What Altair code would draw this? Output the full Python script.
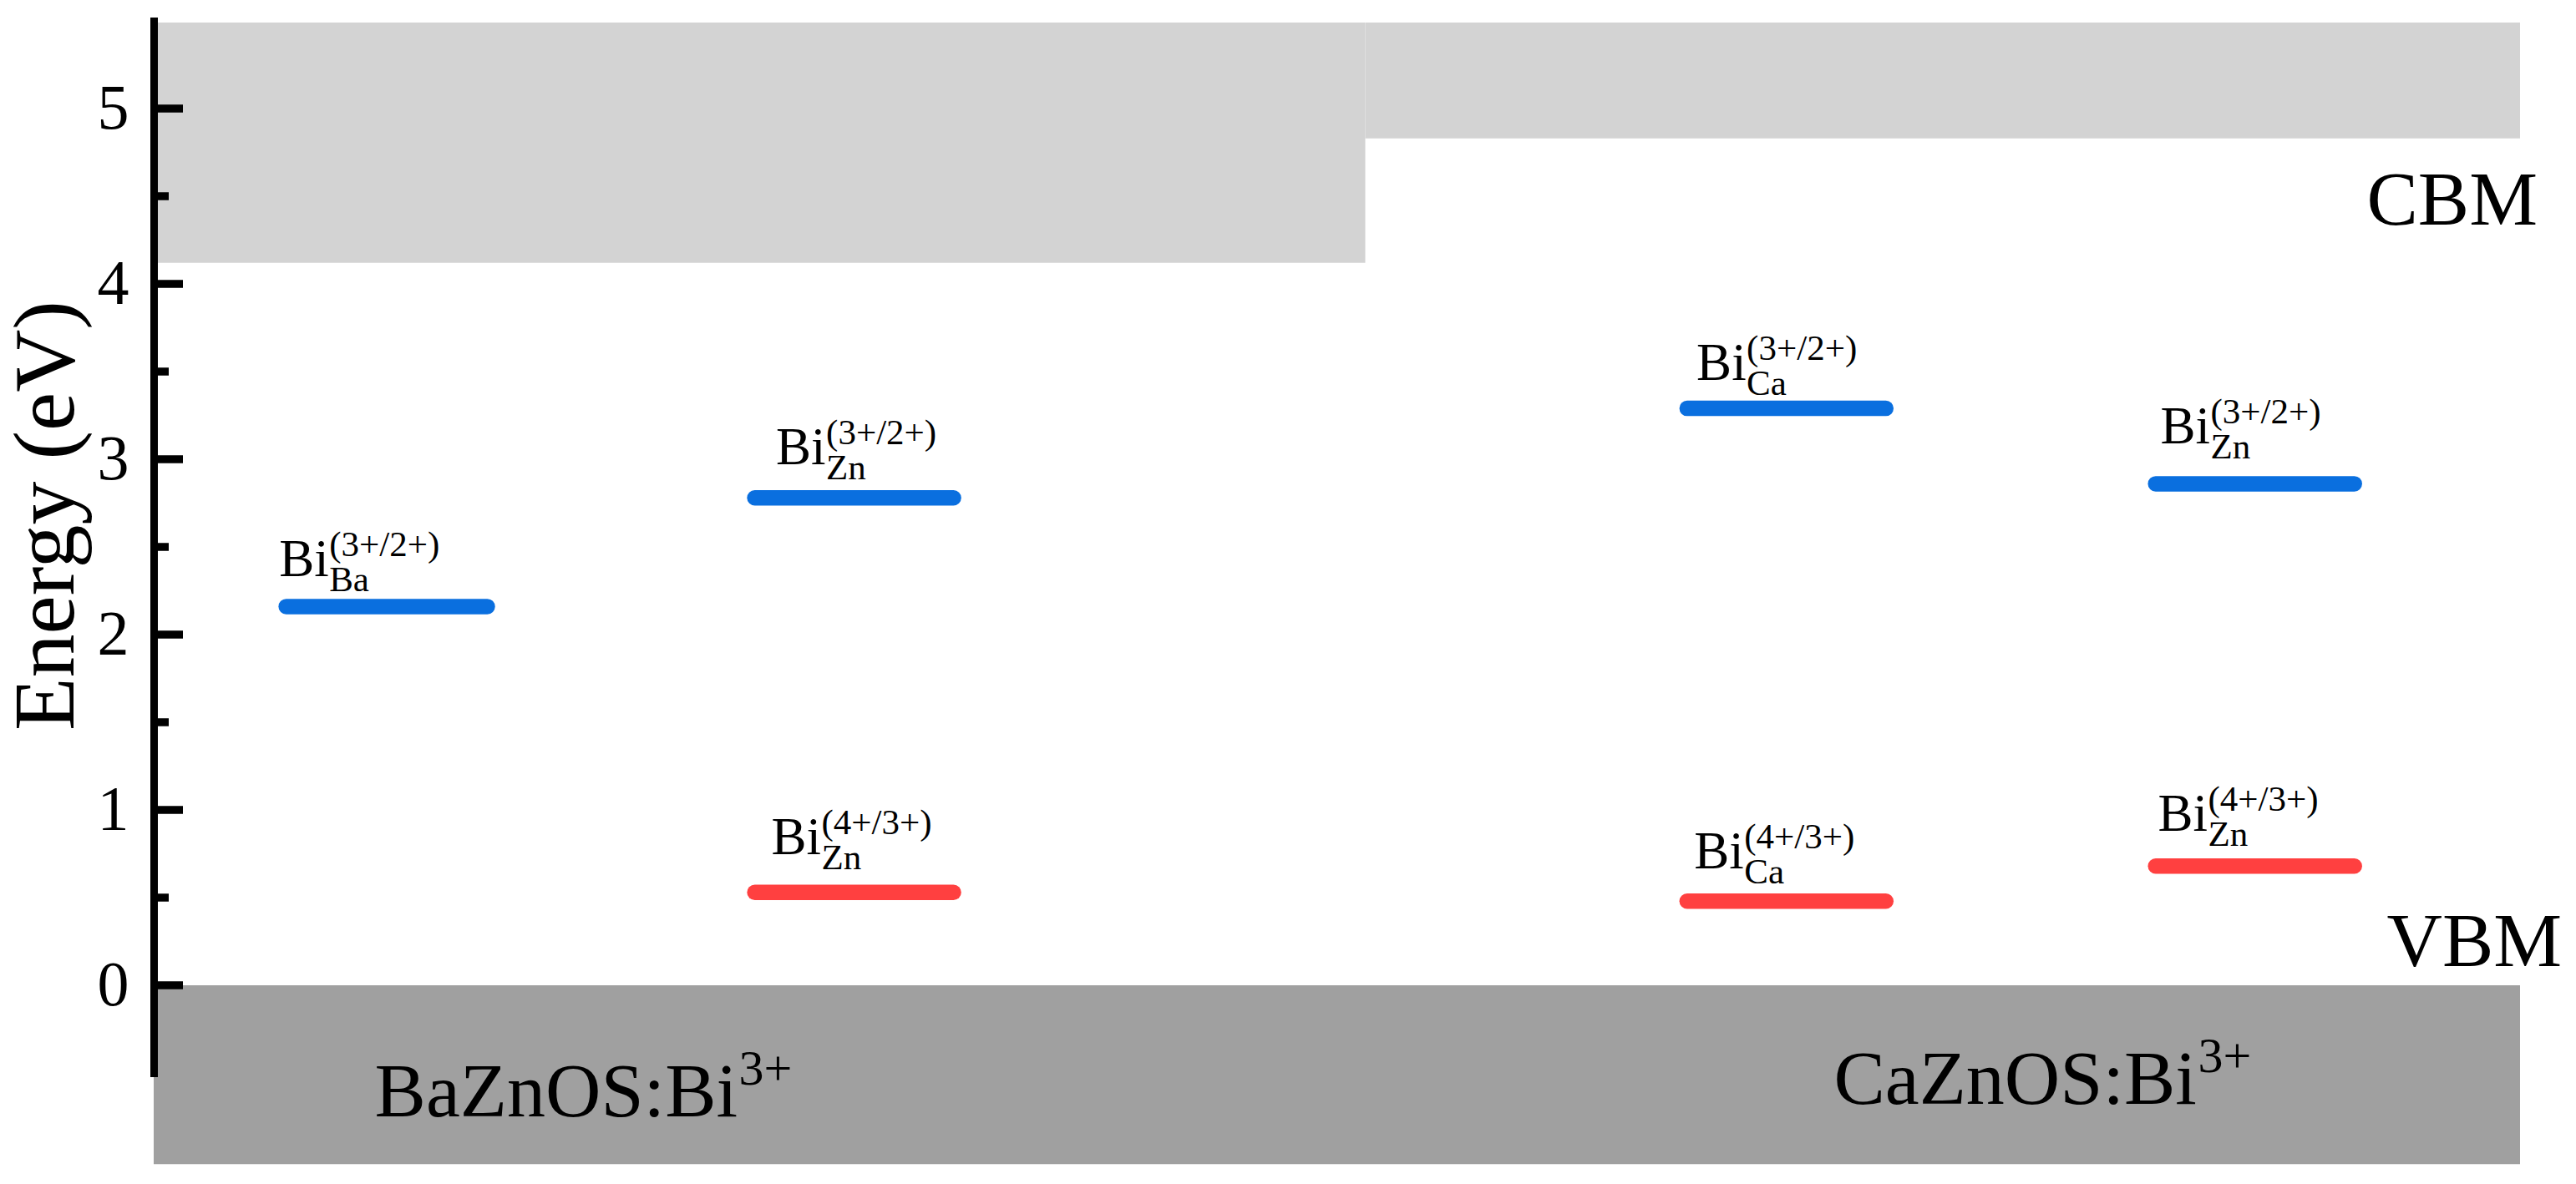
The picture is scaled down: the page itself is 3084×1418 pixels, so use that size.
import altair as alt
import pandas as pd

FONT = "Liberation Serif"

# ---- background bands (energy in eV; x in panel units 0-10) ----
band_x1 = [0.0, 5.12, 0.0]
band_x2 = [5.12, 10.0, 10.0]
band_y1 = [4.12, 4.83, -1.02]
band_y2 = [5.49, 5.49, 0.0]
band_kind = ["CB", "CB", "VB"]

# ---- defect transition levels ----
lvl_x1 = [0.56, 2.54, 2.54, 6.48, 8.46, 6.48, 8.46]
lvl_x2 = [1.41, 3.38, 3.38, 7.32, 9.30, 7.32, 9.30]
lvl_y = [2.16, 2.78, 0.53, 3.29, 2.86, 0.48, 0.68]
lvl_kind = ["3+/2+", "3+/2+", "4+/3+", "3+/2+", "3+/2+", "4+/3+", "4+/3+"]

# ---- level labels ----
lab_x = [0.53, 2.63, 2.61, 6.52, 8.48, 6.51, 8.47]
lab_y = [2.333, 2.971, 0.748, 3.452, 3.090, 0.667, 0.881]
lab_main = ["Bi"] * 7
lab_sub = ["Ba", "Zn", "Zn", "Ca", "Zn", "Ca", "Zn"]
lab_sup = ["(3+/2+)", "(3+/2+)", "(4+/3+)", "(3+/2+)", "(3+/2+)", "(4+/3+)", "(4+/3+)"]

# ---- compound labels ----
comp_x = [0.934, 7.10]
comp_y = [-0.748, -0.676]
comp_name = ["BaZnOS:Bi", "CaZnOS:Bi"]
comp_sup = ["3+", "3+"]

# ---- band edge labels ----
edge_x = [9.352, 9.437]
edge_y = [4.338, 0.110]
edge_name = ["CBM", "VBM"]

# ---- y ticks ----
major_ticks = [0, 1, 2, 3, 4, 5]
minor_ticks = [0.5, 1.5, 2.5, 3.5, 4.5]

bands = pd.DataFrame(dict(x1=band_x1, x2=band_x2, y1=band_y1, y2=band_y2, kind=band_kind))
levels = pd.DataFrame(dict(x1=lvl_x1, x2=lvl_x2, y=lvl_y, kind=lvl_kind))
labels = pd.DataFrame(dict(x=lab_x, y=lab_y, main=lab_main, sub=lab_sub, sup=lab_sup))
comps = pd.DataFrame(dict(x=comp_x, y=comp_y, name=comp_name, sup=comp_sup))
edges = pd.DataFrame(dict(x=edge_x, y=edge_y, name=edge_name))
majors = pd.DataFrame(dict(v=major_ticks))
minors = pd.DataFrame(dict(v=minor_ticks))

xs = alt.Scale(domain=[0, 10], nice=False, zero=False)
ys = alt.Scale(domain=[-0.5, 5.5], nice=False, zero=False)

yaxis = alt.Axis(
    title="Energy (eV)", values=major_ticks, format="d",
    ticks=False, tickSize=0, grid=False,
    domainColor="black", domainWidth=9, domainCap="square",
    labelFont=FONT, labelFontSize=76, labelColor="black", labelPadding=30,
    labelFlush=False, labelOverlap=False,
    titleFont=FONT, titleFontSize=104, titleFontWeight="normal", titleColor="black",
    titleAngle=270, titleAlign="center", titleBaseline="alphabetic",
    titleX=-97, titleY=592, zindex=1,
)


def Y(field):
    return alt.Y(field, scale=ys, axis=yaxis)


def X(field):
    return alt.X(field, scale=xs, axis=None)


band_layer = alt.Chart(bands).mark_rect().encode(
    x=X("x1:Q"), x2="x2:Q",
    y=Y("y1:Q"), y2="y2:Q",
    fill=alt.Fill("kind:N", scale=alt.Scale(domain=["CB", "VB"], range=["#D3D3D3", "#A0A0A0"]), legend=None),
)

major_layer = alt.Chart(majors).mark_rule(color="black", strokeWidth=9.5).encode(
    y=Y("v:Q"), x=alt.value(0), x2=alt.value(35),
)
minor_layer = alt.Chart(minors).mark_rule(color="black", strokeWidth=9.5).encode(
    y=Y("v:Q"), x=alt.value(0), x2=alt.value(18),
)

level_layer = alt.Chart(levels).mark_rule(strokeWidth=18.5, strokeCap="round").encode(
    x=X("x1:Q"), x2="x2:Q",
    y=Y("y:Q"),
    stroke=alt.Stroke("kind:N", scale=alt.Scale(domain=["3+/2+", "4+/3+"], range=["#0A6FDF", "#FF4040"]), legend=None),
)


def txt(df, field, size, dx=0, dy=0):
    return alt.Chart(df).mark_text(
        font=FONT, fontSize=size, align="left", baseline="alphabetic",
        color="black", dx=dx, dy=dy,
    ).encode(
        x=X("x:Q"),
        y=Y("y:Q"),
        text=f"{field}:N",
    )


layers = [
    band_layer, major_layer, minor_layer, level_layer,
    txt(labels, "main", 63),
    txt(labels, "sub", 43, dx=60, dy=18),
    txt(labels, "sup", 43, dx=60, dy=-24),
    txt(comps, "name", 92),
    txt(comps, "sup", 60, dx=436, dy=-38),
    txt(edges, "name", 92),
]

chart = alt.layer(*layers).properties(
    width=2833, height=1260,
    padding={"left": 176, "top": 17, "right": 59, "bottom": 120},
    autosize=alt.AutoSizeParams(type="none"),
    background="white",
).configure_view(stroke=None)

chart.save("out.html", embed_options={"renderer": "svg", "actions": False})
